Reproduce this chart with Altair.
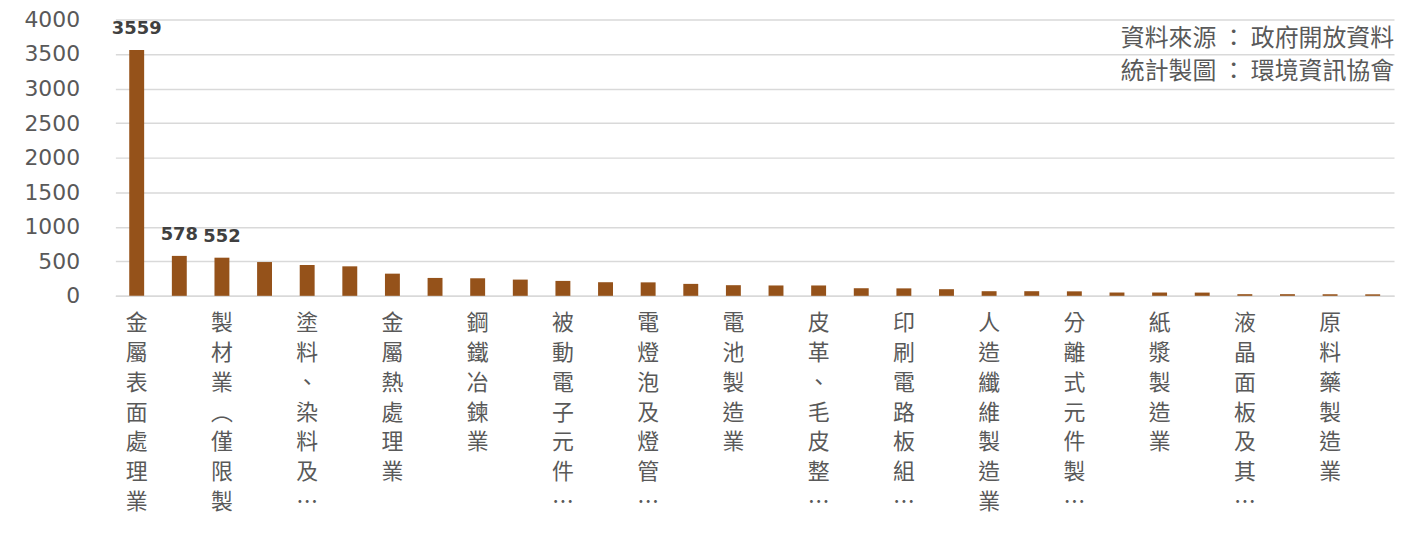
import altair as alt
import pandas as pd

# Values per industry (sorted, 30 bars); only every other category label is shown
values = [3559, 578, 552, 489, 446, 427, 321, 259, 254, 235,
          216, 197, 195, 173, 154, 150, 150, 110, 108, 96,
          67, 67, 65, 48, 48, 47, 24, 24, 23, 22]
shown_labels = ["金屬表面處理業", "製材業︵僅限製", "塗料、染料及…", "金屬熱處理業",
                "鋼鐵冶鍊業", "被動電子元件…", "電燈泡及燈管…", "電池製造業",
                "皮革、毛皮整…", "印刷電路板組…", "人造纖維製造業", "分離式元件製…",
                "紙漿製造業", "液晶面板及其…", "原料藥製造業"]
value_labels = ["3559", "578", "552"]
source_lines = ["資料來源 ： 政府開放資料", "統計製圖 ： 環境資訊協會"]
y_ticks = [0, 500, 1000, 1500, 2000, 2500, 3000, 3500, 4000]

keys = []
for i in range(len(values)):
    if i % 2 == 0:
        keys.append(shown_labels[i // 2])
    else:
        keys.append("#" + str(i))
vlabs = value_labels + [""] * (len(values) - len(value_labels))
df = pd.DataFrame({"key": keys, "value": values, "vlab": vlabs})

W, H = 1286, 278
BAR = "#95521a"
GRID = "#d9d9d9"
CJK = "Noto Sans CJK TC"

x = alt.X("key:N", sort=None, title=None,
          scale=alt.Scale(paddingInner=0, paddingOuter=0),
          axis=alt.Axis(labelExpr="indexof(datum.label, '#') == 0 ? '' : split(datum.label, '')",
                        labelAngle=0, labelFont=CJK, labelFontSize=22, labelColor="#595959",
                        labelLineHeight=30, labelBaseline="top", labelPadding=17,
                        labelOverlap=False, labelLimit=0, ticks=False,
                        domainColor=GRID, domainWidth=1.5))
y = alt.Y("value:Q", title=None,
          scale=alt.Scale(domain=[0, 4000], nice=False),
          axis=alt.Axis(values=y_ticks, format="d", labelFont="DejaVu Sans", labelFontSize=22,
                        labelColor="#595959", labelPadding=36, ticks=False, domain=False,
                        labelOverlap=False, gridColor=GRID, gridWidth=1.5))

bars = alt.Chart(df).mark_bar(size=15, color=BAR).encode(x=x, y=y)
texts = alt.Chart(df).mark_text(baseline="bottom", dy=-12, font="DejaVu Sans",
                                fontWeight="bold", fontSize=18, color="#404040").encode(
    x=x, y=y, text="vlab:N")

src = alt.Chart(pd.DataFrame({"t": ["\n".join(source_lines)]})).mark_text(
    align="right", baseline="middle", font=CJK, fontSize=24, color="#595959",
    lineBreak="\n", lineHeight=33).encode(
    x=alt.value(W), y=alt.value(20), text="t:N")

chart = alt.layer(bars, texts, src).properties(
    width=W, height=H,
    padding={"left": 108, "top": 10, "right": 2, "bottom": 230},
    autosize=alt.AutoSizeParams(type="none"),
).configure_view(stroke=None)

chart.save("out.html", embed_options={"renderer": "svg", "actions": False})
